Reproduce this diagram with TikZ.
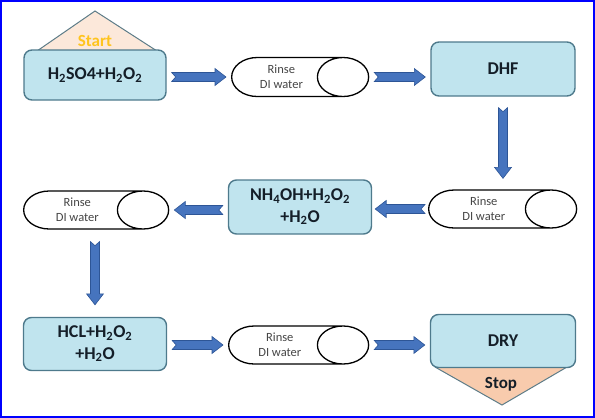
\documentclass[tikz,border=0pt]{standalone}
\usepackage{fontspec}
\setmainfont{Carlito}
\usetikzlibrary{calc}
\usetikzlibrary{shapes}
\definecolor{boxfill}{RGB}{192,228,238}
\definecolor{boxedge}{RGB}{78,122,140}
\definecolor{arrowblue}{RGB}{70,116,190}
\definecolor{arrowedge}{RGB}{45,85,150}
\definecolor{startfill}{RGB}{252,232,218}
\definecolor{stopfill}{RGB}{248,203,173}
\definecolor{startgold}{RGB}{255,196,30}
\definecolor{inkdark}{RGB}{20,30,40}
\definecolor{rinsegray}{RGB}{70,70,70}
\definecolor{frameblue}{RGB}{0,0,255}

\begin{document}
\begin{tikzpicture}[x=1pt, y=-1pt,
bath/.style={draw=boxedge, line width=1.4pt, fill=boxfill, rounded corners=8pt, align=center, text=inkdark, font=\fontsize{18}{21.5}\selectfont\bfseries},
rinse/.style={cylinder, anchor=west, draw=black, line width=1.3pt, fill=white, aspect=1.85, align=center, text=rinsegray, font=\fontsize{12.5}{15}\selectfont, inner sep=2pt},
hood/.style={draw=boxedge!70!gray, line width=1pt},
flowarrow/.style={fill=arrowblue, draw=arrowedge, line width=0.6pt,
  to path={let \p1=(\tikztostart), \p2=(\tikztotarget),
    \n1={atan2(\y2-\y1,\x2-\x1)}, \n2={veclen(\x2-\x1,\y2-\y1)} in
    {[shift={(\p1)}, rotate=\n1]
    (#1,4.5pt) -- (\n2-#1-11pt,4.5pt) -- (\n2-#1-11pt,8.5pt) -- (\n2-#1,0pt)
    -- (\n2-#1-11pt,-8.5pt) -- (\n2-#1-11pt,-4.5pt) -- (#1,-4.5pt) -- (#1+4pt,0pt) -- cycle}}},
flowarrow/.default=5]

\useasboundingbox (0,0) rectangle (595,418);
\draw[frameblue, line width=2pt] (1,1) rectangle (594,417);

% start and stop caps
\fill[startfill] (37,51) -- (95,11) -- (157,51) -- cycle;
\draw[hood] (37,51) -- (95,11) -- (157,51);
\fill[stopfill] (435,367) -- (502,405) -- (567,367) -- cycle;
\draw[hood] (435,367) -- (502,405) -- (567,367);

% baths
\node[bath, minimum width=142, minimum height=50] (piranha) at (95,75) {H\textsubscript{2}SO4+H\textsubscript{2}O\textsubscript{2}};
\node[bath, minimum width=144, minimum height=54] (dhf) at (503,69) {DHF};
\node[bath, minimum width=143, minimum height=54] (sc1) at (300,207) {NH\textsubscript{4}OH+H\textsubscript{2}O\textsubscript{2}\\+H\textsubscript{2}O};
\node[bath, minimum width=143, minimum height=53] (sc2) at (95,344) {HCL+H\textsubscript{2}O\textsubscript{2}\\+H\textsubscript{2}O};
\node[bath, minimum width=145, minimum height=53] (dry) at (503,341) {DRY};

\node[text=startgold, font=\fontsize{17}{20}\selectfont\bfseries] (start) at (95,41) {Start};
\node[text=inkdark, font=\fontsize{17}{20}\selectfont\bfseries] (stop) at (501,384) {Stop};

% rinse steps
\node[rinse, minimum height=137, minimum width=39] (rinse1) at (231,77) {Rinse\\DI water};
\node[rinse, minimum height=148, minimum width=38] (rinse2) at (428,209) {Rinse\\DI water};
\node[rinse, minimum height=145, minimum width=38] (rinse3) at (23,210) {Rinse\\DI water};
\node[rinse, minimum height=140, minimum width=38] (rinse4) at (228,345) {Rinse\\DI water};

% arrows
\path[flowarrow] (piranha.east |- rinse1.west) to (rinse1.west);
\path[flowarrow] (rinse1.east) to (dhf.west |- rinse1.east);
\path[flowarrow=11] (dhf.south) to (dhf.south |- rinse2.north);
\path[flowarrow=3] (rinse2.west) to (sc1.east |- rinse2.west);
\path[flowarrow] (sc1.west |- rinse3.east) to (rinse3.east);
\path[flowarrow=12] (rinse3.south -| sc2.north) to (sc2.north);
\path[flowarrow] (sc2.east |- rinse4.west) to (rinse4.west);
\path[flowarrow] (rinse4.east) to (dry.west |- rinse4.east);

\end{tikzpicture}
\end{document}
